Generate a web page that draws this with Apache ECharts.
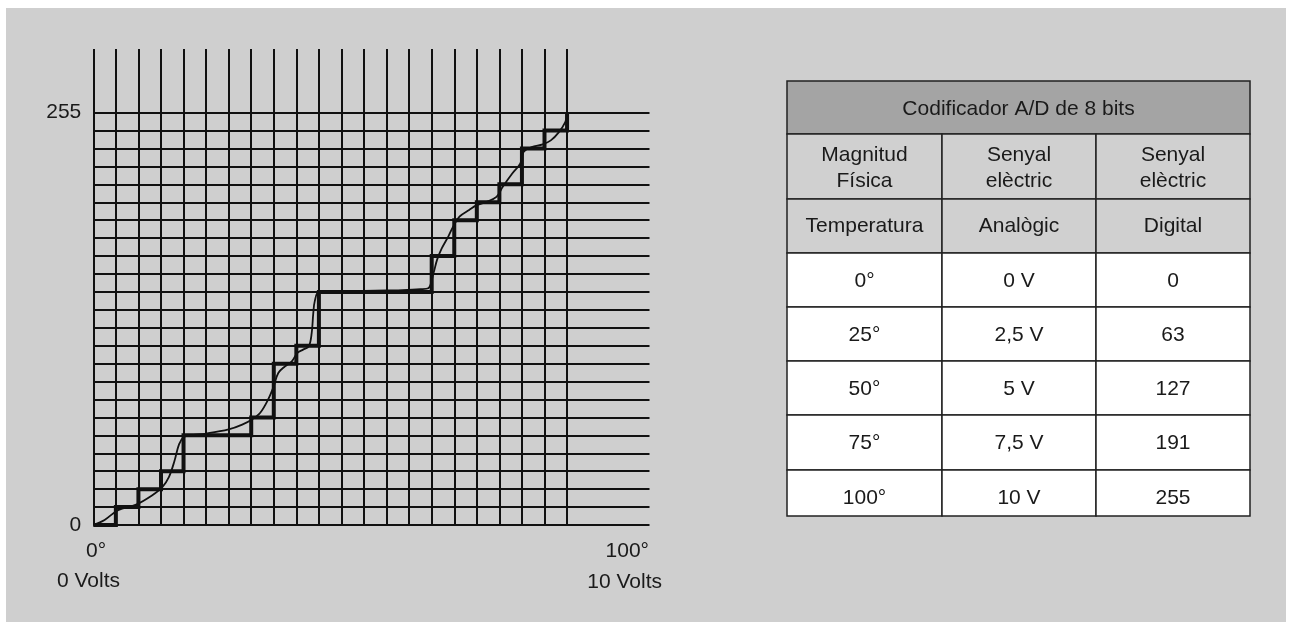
<!DOCTYPE html>
<html>
<head>
<meta charset="utf-8">
<title>Codificador A/D de 8 bits</title>
<script src="https://cdn.jsdelivr.net/npm/echarts@6/dist/echarts.min.js"></script>
<style>
  html, body { margin: 0; padding: 0; background: #fff; }
  #chart { width: 1292px; height: 630px; }
</style>
</head>
<body>
<div id="chart"></div>
<script>
// the grid is counted in steps: 21 sample columns, 23 quantisation rows (0..255)
var stepCols = 21;
var stepRows = 23;

// digital output: level held from each x until the next one
var stairX = [0, 1, 2, 3, 4, 7, 8, 9, 10, 15, 16, 17, 18, 19, 20, 21];
var stairLevel = [0, 1, 2, 3, 5, 6, 9, 10, 13, 15, 17, 18, 19, 21, 22, 23];

// analog signal (grid steps)
var curveX = [0, 0.5, 1.1, 1.9, 2.6, 3.05, 3.35, 3.6, 3.8, 4.0, 4.3, 5, 6, 6.6, 7.05, 7.4, 7.75,
  8.0, 8.2, 8.5, 8.8, 9.05, 9.3, 9.55, 9.68, 9.75, 9.82, 10.0, 11, 12, 13, 13.7, 14.5, 14.85,
  15.07, 15.24, 15.45, 15.74, 15.95, 16.23, 16.66, 17.0, 17.44, 17.87, 18.15, 18.57, 18.93,
  19.07, 19.43, 19.92, 20.28, 20.63, 20.92, 21.0];
var curveY = [0, 0.28, 0.83, 1.14, 1.65, 2.1, 2.67, 3.58, 4.5, 4.9, 5.0, 5.1, 5.33, 5.6, 5.9, 6.26, 7.0,
  7.74, 8.48, 8.85, 9.13, 9.6, 9.78, 9.96, 10.7, 11.8, 12.5, 13.0, 13.02, 13.05, 13.08, 13.1, 13.15, 13.2,
  14.0, 14.8, 15.44, 16.1, 16.64, 17.2, 17.57, 17.84, 18.03, 18.3, 18.86, 19.6, 20.16,
  20.8, 21.08, 21.23, 21.45, 21.9, 22.47, 22.9];

var yTickLabels = ['0', '255'];
var xTickLabels = ['0°', '100°'];
var xVoltLabels = ['0 Volts', '10 Volts'];

// table on the right
var tableTitle = 'Codificador A/D de 8 bits';
var tableHead1 = [['Magnitud', 'Física'], ['Senyal', 'elèctric'], ['Senyal', 'elèctric']];
var tableHead2 = ['Temperatura', 'Analògic', 'Digital'];
var temperatures = ['0°', '25°', '50°', '75°', '100°'];
var analogValues = ['0 V', '2,5 V', '5 V', '7,5 V', '10 V'];
var digitalValues = ['0', '63', '127', '191', '255'];

var font = '"Liberation Sans", Arial, Helvetica, sans-serif';
var ink = '#1a1a1a';

// plot geometry (px)
var plotLeft = 93.3, plotBottom = 525;
var colW = 22.56, rowH = 17.93;
var vTop = 49;          // vertical lines stick out above 255
var hRight = 649.5;     // horizontal lines run past the last column

var stairData = stairX.map(function (x, i) { return [x, stairLevel[i]]; });
var curveData = curveX.map(function (x, i) { return [x, curveY[i]]; });

function txt(text, x, y, align, size) {
  return {
    type: 'text', z: 20, silent: true,
    style: {
      text: text, x: x, y: y, align: align || 'center', verticalAlign: 'middle',
      fontSize: size || 21, fontFamily: font, fill: ink
    }
  };
}

function cell(x, y, w, h, fill) {
  return {
    type: 'rect', z: 10, silent: true,
    shape: { x: x, y: y, width: w, height: h },
    style: { fill: fill, stroke: '#222', lineWidth: 1.5 }
  };
}

/**
 * build the table out of rects and texts
 */
function buildTable() {
  var colX = [787, 942, 1096, 1250];
  var rowY = [81, 134, 199, 253, 307, 361, 415, 470, 516];
  var els = [];
  var i, j;

  els.push(cell(colX[0], rowY[0], colX[3] - colX[0], rowY[1] - rowY[0], '#a4a4a4'));
  els.push(txt(tableTitle, (colX[0] + colX[3]) / 2, 109));

  for (j = 0; j < 3; j++) {
    var cx = (colX[j] + colX[j + 1]) / 2;
    var w = colX[j + 1] - colX[j];
    els.push(cell(colX[j], rowY[1], w, rowY[2] - rowY[1], '#d0d0d0'));
    els.push(txt(tableHead1[j][0], cx, 155));
    els.push(txt(tableHead1[j][1], cx, 181));
    els.push(cell(colX[j], rowY[2], w, rowY[3] - rowY[2], '#d0d0d0'));
    els.push(txt(tableHead2[j], cx, 226));
  }

  var cols = [temperatures, analogValues, digitalValues];
  for (i = 0; i < temperatures.length; i++) {
    var top = rowY[3 + i];
    var h = rowY[4 + i] - top;
    for (j = 0; j < 3; j++) {
      els.push(cell(colX[j], top, colX[j + 1] - colX[j], h, '#ffffff'));
      els.push(txt(cols[j][i], (colX[j] + colX[j + 1]) / 2, top + 28));
    }
  }
  return els;
}

var gridLine = { show: true, lineStyle: { color: '#111', width: 2 } };
var hidden = { show: false };

var myChart = echarts.init(document.getElementById('chart'));
var option = {
  animation: false,
  backgroundColor: '#ffffff',
  grid: [
    // vertical lines
    {
      left: plotLeft, top: vTop, width: colW * stepCols, height: plotBottom - vTop,
      containLabel: false, outerBoundsMode: 'none'
    },
    // horizontal lines + signal
    {
      left: plotLeft, top: plotBottom - rowH * stepRows, width: hRight - plotLeft, height: rowH * stepRows,
      containLabel: false, outerBoundsMode: 'none'
    }
  ],
  xAxis: [
    {
      gridIndex: 0, type: 'value', min: 0, max: stepCols, interval: 1,
      axisLine: hidden, axisTick: hidden, axisLabel: hidden, splitLine: gridLine
    },
    {
      gridIndex: 1, type: 'value', min: 0, max: (hRight - plotLeft) / colW,
      axisLine: hidden, axisTick: hidden, axisLabel: hidden, splitLine: hidden
    }
  ],
  yAxis: [
    {
      gridIndex: 0, type: 'value', min: 0, max: (plotBottom - vTop) / rowH,
      axisLine: hidden, axisTick: hidden, axisLabel: hidden, splitLine: hidden
    },
    {
      gridIndex: 1, type: 'value', min: 0, max: stepRows, interval: 1,
      axisLine: hidden, axisTick: hidden, splitLine: gridLine,
      axisLabel: {
        show: true, margin: 12, fontSize: 21, fontFamily: font, color: ink,
        showMinLabel: true, showMaxLabel: true,
        formatter: function (v) {
          if (v === 0) return yTickLabels[0];
          if (v === stepRows) return yTickLabels[1];
          return '';
        }
      }
    }
  ],
  series: [
    {
      name: 'Digital', type: 'line', xAxisIndex: 1, yAxisIndex: 1,
      step: 'end', data: stairData, showSymbol: false, symbol: 'none',
      lineStyle: { color: '#111', width: 4, join: 'miter' }, z: 3
    },
    {
      name: 'Analògic', type: 'line', xAxisIndex: 1, yAxisIndex: 1,
      smooth: 0.35, data: curveData, showSymbol: false, symbol: 'none',
      lineStyle: { color: '#111', width: 1.8 }, z: 4
    }
  ],
  graphic: [
    {
      type: 'rect', z: -100, silent: true,
      shape: { x: 6, y: 8, width: 1280, height: 614 },
      style: { fill: '#cfcfcf' }
    },
    txt(xTickLabels[0], 86, 551, 'left'),
    txt(xVoltLabels[0], 57, 581, 'left'),
    txt(xTickLabels[1], 649, 551, 'right'),
    txt(xVoltLabels[1], 662, 582, 'right')
  ].concat(buildTable())
};

// draw chart
myChart.setOption(option);
</script>
</body>
</html>
